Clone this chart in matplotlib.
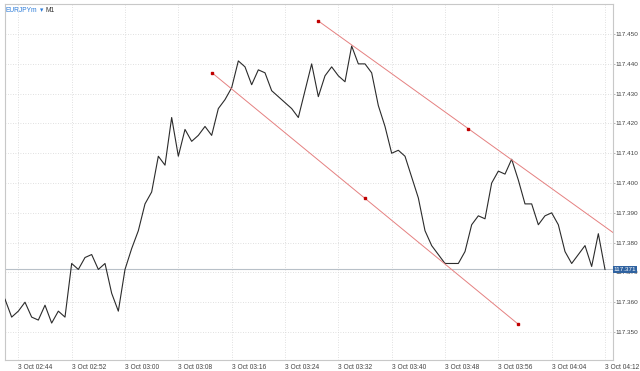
import numpy as np
import matplotlib
matplotlib.use("Agg")
import matplotlib.pyplot as plt

# EURJPYm M1 closes, one per minute from 3 Oct 02:42 to 04:12
closes = [
    117.361, 117.355, 117.357, 117.360, 117.355, 117.354, 117.359, 117.353, 117.357, 117.355,
    117.373, 117.371, 117.375, 117.376, 117.371, 117.373, 117.363, 117.357, 117.371, 117.378,
    117.384, 117.393, 117.397, 117.409, 117.406, 117.422, 117.409, 117.418, 117.414, 117.416,
    117.419, 117.416, 117.425, 117.428, 117.432, 117.441, 117.439, 117.433, 117.438, 117.437,
    117.431, 117.429, 117.427, 117.425, 117.422, 117.431, 117.440, 117.429, 117.436, 117.439,
    117.436, 117.434, 117.446, 117.440, 117.440, 117.437, 117.426, 117.419, 117.410, 117.411,
    117.409, 117.402, 117.395, 117.384, 117.379, 117.376, 117.373, 117.373, 117.373, 117.377,
    117.386, 117.389, 117.388, 117.400, 117.404, 117.403, 117.408, 117.401, 117.393, 117.393,
    117.386, 117.389, 117.390, 117.386, 117.377, 117.373, 117.376, 117.379, 117.372, 117.383,
    117.371,
]
start_minute = 2 * 60 + 42

# trend lines: (bar, price) anchors
lower_trend = [(31, 117.4371), (77, 117.3526)]
upper_trend = [(47, 117.4544), (92, 117.3821)]

current_price = 117.371
y_ticks = [117.350, 117.360, 117.370, 117.380, 117.390, 117.400,
           117.410, 117.420, 117.430, 117.440, 117.450]
x_tick_bars = list(range(2, 91, 8))

font = ["Liberation Sans", "DejaVu Sans"]
plt.rcParams["font.family"] = font

fig = plt.figure(figsize=(6.4, 3.71), dpi=100)
fig.patch.set_facecolor("white")
ax = fig.add_axes([5 / 640, 11 / 371, 608 / 640, 356 / 371])

bars = np.arange(len(closes))
ax.plot(bars, closes, color="#2b2b2b", lw=0.8, zorder=3)

# current price line
ax.axhline(current_price, color="#b8c0c8", lw=0.8, zorder=2)

for trend in (lower_trend, upper_trend):
    (x0, y0), (x1, y1) = trend
    ax.plot([x0, x1], [y0, y1], color="#e58080", lw=0.7, zorder=4)
    xm, ym = (x0 + x1) / 2, (y0 + y1) / 2
    ax.plot([x0, xm, x1], [y0, ym, y1], ls="none", marker="s", ms=1.6,
            color="#c00000", zorder=5)

ax.set_xlim(0, 91.2)
ax.set_ylim(117.3406, 117.4601)

ax.set_xticks(x_tick_bars)
labels = []
for b in x_tick_bars:
    m = start_minute + b
    labels.append(f"3 Oct {m // 60:02d}:{m % 60:02d}")
ax.set_xticklabels(labels, fontsize=4.8, color="#444444", ha="left")
ax.set_yticks(y_ticks)
ax.set_yticklabels([f"{v:.3f}" for v in y_ticks], fontsize=4.6, color="#444444")
ax.yaxis.tick_right()
ax.tick_params(axis="x", length=0, pad=3)
ax.tick_params(axis="y", length=1.5, width=0.5, color="#999999", pad=0.5)

ax.grid(True, color="#d6d6d6", lw=0.6, ls=(0, (1, 2)))
for s in ax.spines.values():
    s.set_color("#c8c8c8")
    s.set_linewidth(0.8)

# price label box on the right axis
ax.text(1.001, current_price, "117.371", transform=ax.get_yaxis_transform(),
        fontsize=4.6, color="white", va="center", ha="left",
        bbox=dict(boxstyle="square,pad=0.15", fc="#2f62a0", ec="none"), zorder=10)

# symbol caption, pieces placed one after another
renderer = fig.canvas.get_renderer()
x = 6
for txt, col, fam in [("EURJPYm", "#2a7ad8", font), ("\u25be", "#2a7ad8", ["DejaVu Sans"]),
                      ("M1", "#333333", font)]:
    t = fig.text(x / 640, 1 - 10 / 371, txt, fontsize=4.8, color=col, va="center",
                 family=fam)
    x = t.get_window_extent(renderer).x1 + 2

fig.savefig("out.png", dpi=100)
